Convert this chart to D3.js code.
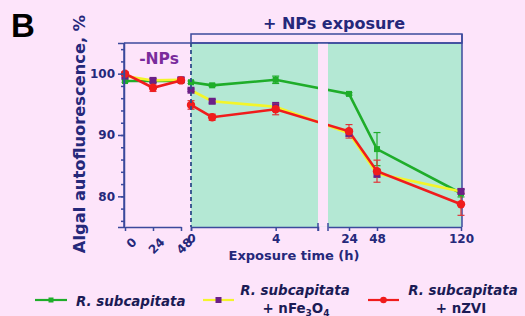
<!DOCTYPE html>
<html><head><meta charset="utf-8">
<script src="https://cdn.jsdelivr.net/npm/d3@7"></script>
<style>
html,body{margin:0;padding:0;background:#fde4fa;}
svg{display:block;font-family:"DejaVu Sans",Verdana,sans-serif;}
</style></head>
<body><svg id="c" width="525" height="316"></svg>
<script>
// ---- data ----
const preTimes = [0, 24, 48];           // -NPs phase (h)
const expTimes = [0, 1, 4, 24, 48, 120]; // exposure phase (h)
const preTickLabels = ["0", "24", "48"];
const expTickValsA = [0, 4];
const expTickValsB = [24, 48, 120];
const yTicks = [80, 90, 100];

const ctrlPre = [98.8, 98.8, 98.8];
const ctrlPreErr = [0.2, 0.2, 0.2];
const ctrlExp = [98.6, 98.1, 99.0, 96.7, 87.7, 80.5];
const ctrlExpErr = [0.2, 0.2, 0.6, 0.2, 2.7, 0.6];

const feoPre = [99.6, 98.9, 99.0];
const feoPreErr = [0.3, 0.3, 0.4];
const feoExp = [97.3, 95.5, 94.6, 90.3, 83.7, 80.8];
const feoExpErr = [0.2, 0.3, 0.7, 0.5, 0.6, 0.4];

const zviPre = [100.0, 97.7, 98.9];
const zviPreErr = [0.3, 0.6, 0.4];
const zviExp = [94.9, 92.9, 94.2, 90.6, 84.1, 78.7];
const zviExpErr = [0.7, 0.5, 0.9, 1.1, 1.8, 1.8];

const seriesNames = ["R. subcapitata", "R. subcapitata", "R. subcapitata"];

// ---- layout ----
const svg = d3.select("#c");
const navy = "#25287a", axisCol = "#3b4a9c";
const green = "#1fad2a", yellow = "#f3f52a", red = "#f01c1c", purple = "#6b1f86";

const y = d3.scaleLinear().domain([75, 105]).range([227, 43]);
const xPre = d3.scaleLinear().domain([0, 48]).range([125, 181]);
const xA = d3.scaleLinear().domain([0, 6]).range([191, 318]);
const xB = d3.scaleLinear().domain([6, 120]).range([328, 461]);
const xE = t => t <= 6 ? xA(t) : xB(t);

// shaded exposure region
svg.append("rect").attr("x", 191).attr("y", 43).attr("width", 271).attr("height", 184).attr("fill", "#b4e8d4");
// exposure header box
svg.append("rect").attr("x", 191).attr("y", 34).attr("width", 271).attr("height", 9)
  .attr("fill", "#fde4fa").attr("stroke", axisCol).attr("stroke-width", 1.5);
svg.append("line").attr("x1", 124).attr("x2", 462).attr("y1", 43).attr("y2", 43).attr("stroke", axisCol).attr("stroke-width", 1.5);
svg.append("line").attr("x1", 462).attr("x2", 462).attr("y1", 34).attr("y2", 227).attr("stroke", axisCol).attr("stroke-width", 1.5);

// series
const series = [
  {pre: ctrlPre, preErr: ctrlPreErr, exp: ctrlExp, expErr: ctrlExpErr, line: green, mk: green, err: green, shape: "sq", size: 6},
  {pre: feoPre, preErr: feoPreErr, exp: feoExp, expErr: feoExpErr, line: yellow, mk: purple, err: purple, shape: "sq", size: 7},
  {pre: zviPre, preErr: zviPreErr, exp: zviExp, expErr: zviExpErr, line: red, mk: red, err: "#e0353a", shape: "ci", size: 4.2}
];

const g = svg.append("g");
function drawPart(s, times, vals, errs, xf) {
  const pts = times.map((t, i) => ({x: xf(t), y: y(vals[i]), e: errs[i], v: vals[i]}));
  g.append("path").attr("d", d3.line().x(d => d.x).y(d => d.y)(pts))
    .attr("fill", "none").attr("stroke", s.line).attr("stroke-width", 2.6);
  pts.forEach(p => {
    const y1 = y(p.v + p.e), y2 = y(p.v - p.e);
    g.append("line").attr("x1", p.x).attr("x2", p.x).attr("y1", y1).attr("y2", y2).attr("stroke", s.err).attr("stroke-width", 1.2);
    [y1, y2].forEach(yy => g.append("line").attr("x1", p.x - 3.5).attr("x2", p.x + 3.5).attr("y1", yy).attr("y2", yy).attr("stroke", s.err).attr("stroke-width", 1.2));
  });
  return pts;
}
const allPts = series.map(s => ({s, pts: drawPart(s, preTimes, s.pre, s.preErr, xPre).concat(drawPart(s, expTimes, s.exp, s.expErr, xE))}));
allPts.forEach(({s, pts}) => {
  pts.forEach(p => {
    if (s.shape === "sq") g.append("rect").attr("x", p.x - s.size / 2).attr("y", p.y - s.size / 2).attr("width", s.size).attr("height", s.size).attr("fill", s.mk);
    else g.append("circle").attr("cx", p.x).attr("cy", p.y).attr("r", s.size).attr("fill", s.mk);
  });
});

// break strip
svg.append("rect").attr("x", 318).attr("y", 43.8).attr("width", 10).attr("height", 183).attr("fill", "#fde4fa");
// dashed separator
svg.append("line").attr("x1", 191).attr("x2", 191).attr("y1", 43).attr("y2", 227)
  .attr("stroke", "#2f4d8a").attr("stroke-width", 1.8).attr("stroke-dasharray", "4,3");

// y axis
const yAx = svg.append("g").attr("transform", "translate(124,0)")
  .call(d3.axisLeft(y).tickValues(d3.range(76, 105, 2)).tickSize(3).tickFormat(""));
yAx.call(g2 => g2.select(".domain").remove());
svg.append("g").attr("transform", "translate(124,0)")
  .call(d3.axisLeft(y).tickValues(yTicks).tickSize(6).tickPadding(3))
  .call(g2 => g2.selectAll("text").attr("font-family", "DejaVu Sans").attr("font-size", 12).attr("font-weight", "bold").attr("fill", navy));
svg.append("line").attr("x1", 124).attr("x2", 124).attr("y1", 43).attr("y2", 227).attr("stroke", axisCol).attr("stroke-width", 1.5);
svg.selectAll(".tick line").attr("stroke", axisCol).attr("stroke-width", 1.5);
svg.selectAll(".domain").attr("stroke", axisCol).attr("stroke-width", 1.5);

// x axes
function styleX(sel) {
  sel.selectAll("line").attr("stroke", axisCol).attr("stroke-width", 1.5);
  sel.select(".domain").attr("stroke", axisCol).attr("stroke-width", 1.5);
  sel.selectAll("text").attr("font-family", "DejaVu Sans").attr("font-size", 12).attr("font-weight", "bold").attr("fill", navy);
}
const axPre = svg.append("g").attr("transform", "translate(0,227)")
  .call(d3.axisBottom(xPre).tickValues(preTimes).tickFormat((d, i) => preTickLabels[i]).tickSizeInner(4).tickSizeOuter(0));
styleX(axPre);
axPre.selectAll("text").attr("text-anchor", "end").attr("dy", "0.35em")
  .attr("transform", "translate(4,8) rotate(-45)");
const axA = svg.append("g").attr("transform", "translate(0,227)")
  .call(d3.axisBottom(xA).tickValues(expTickValsA).tickFormat(d3.format("d")).tickSizeInner(4).tickSizeOuter(4));
styleX(axA);
const axB = svg.append("g").attr("transform", "translate(0,227)")
  .call(d3.axisBottom(xB).tickValues(expTickValsB).tickFormat(d3.format("d")).tickSizeInner(4).tickSizeOuter(0));
styleX(axB);
svg.append("line").attr("x1", 328).attr("x2", 328).attr("y1", 223).attr("y2", 231).attr("stroke", axisCol).attr("stroke-width", 1.5);
svg.append("line").attr("x1", 318).attr("x2", 318).attr("y1", 223).attr("y2", 231).attr("stroke", axisCol).attr("stroke-width", 1.5);

// titles
svg.append("text").attr("x", 11).attr("y", 37).text("B").attr("font-family", "Liberation Sans, Arial, sans-serif")
  .attr("font-size", 33).attr("font-weight", "bold").attr("fill", "#000");
svg.append("text").attr("x", 334).attr("y", 29).attr("text-anchor", "middle").text("+ NPs exposure")
  .attr("font-size", 16).attr("font-weight", "bold").attr("fill", navy);
svg.append("text").attr("x", 159).attr("y", 64).attr("text-anchor", "middle").text("-NPs")
  .attr("font-size", 15.5).attr("font-weight", "bold").attr("fill", "#7a2b9c");
svg.append("text").attr("transform", "translate(85,134) rotate(-90)").attr("text-anchor", "middle")
  .text("Algal  autofluorescence,  %").attr("font-size", 16.3).attr("font-weight", "bold").attr("fill", navy);
svg.append("text").attr("x", 294).attr("y", 260).attr("text-anchor", "middle").text("Exposure time (h)")
  .attr("font-size", 13).attr("font-weight", "bold").attr("fill", navy);

// legend
const legCol = "#1b1b55";
const leg = [
  {x0: 35, x1: 67, line: green, mk: green, shape: "sq", size: 5},
  {x0: 203, x1: 234, line: yellow, mk: purple, shape: "sq", size: 6},
  {x0: 368, x1: 399, line: red, mk: red, shape: "ci", size: 3.3}
];
leg.forEach(l => {
  svg.append("line").attr("x1", l.x0).attr("x2", l.x1).attr("y1", 300).attr("y2", 300).attr("stroke", l.line).attr("stroke-width", 2.2);
  const cx = (l.x0 + l.x1) / 2;
  if (l.shape === "sq") svg.append("rect").attr("x", cx - l.size / 2).attr("y", 300 - l.size / 2).attr("width", l.size).attr("height", l.size).attr("fill", l.mk);
  else svg.append("circle").attr("cx", cx).attr("cy", 300).attr("r", l.size).attr("fill", l.mk);
});
const lfs = 13.4;
svg.append("text").attr("x", 76).attr("y", 305.5).text(seriesNames[0])
  .attr("font-size", lfs).attr("font-weight", "bold").attr("font-style", "italic").attr("fill", legCol);
svg.append("text").attr("x", 295).attr("y", 294.5).attr("text-anchor", "middle").text(seriesNames[1])
  .attr("font-size", lfs).attr("font-weight", "bold").attr("font-style", "italic").attr("fill", legCol);
const t2 = svg.append("text").attr("x", 296).attr("y", 312.5).attr("text-anchor", "middle")
  .attr("font-size", lfs).attr("font-weight", "bold").attr("fill", legCol);
t2.append("tspan").text("+ nFe");
t2.append("tspan").text("3").attr("font-size", 9).attr("dy", 3);
t2.append("tspan").text("O").attr("dy", -3);
t2.append("tspan").text("4").attr("font-size", 9).attr("dy", 3);
svg.append("text").attr("x", 463).attr("y", 294.5).attr("text-anchor", "middle").text(seriesNames[2])
  .attr("font-size", lfs).attr("font-weight", "bold").attr("font-style", "italic").attr("fill", legCol);
svg.append("text").attr("x", 461).attr("y", 312.5).attr("text-anchor", "middle").text("+ nZVI")
  .attr("font-size", lfs).attr("font-weight", "bold").attr("fill", legCol);
</script></body></html>
